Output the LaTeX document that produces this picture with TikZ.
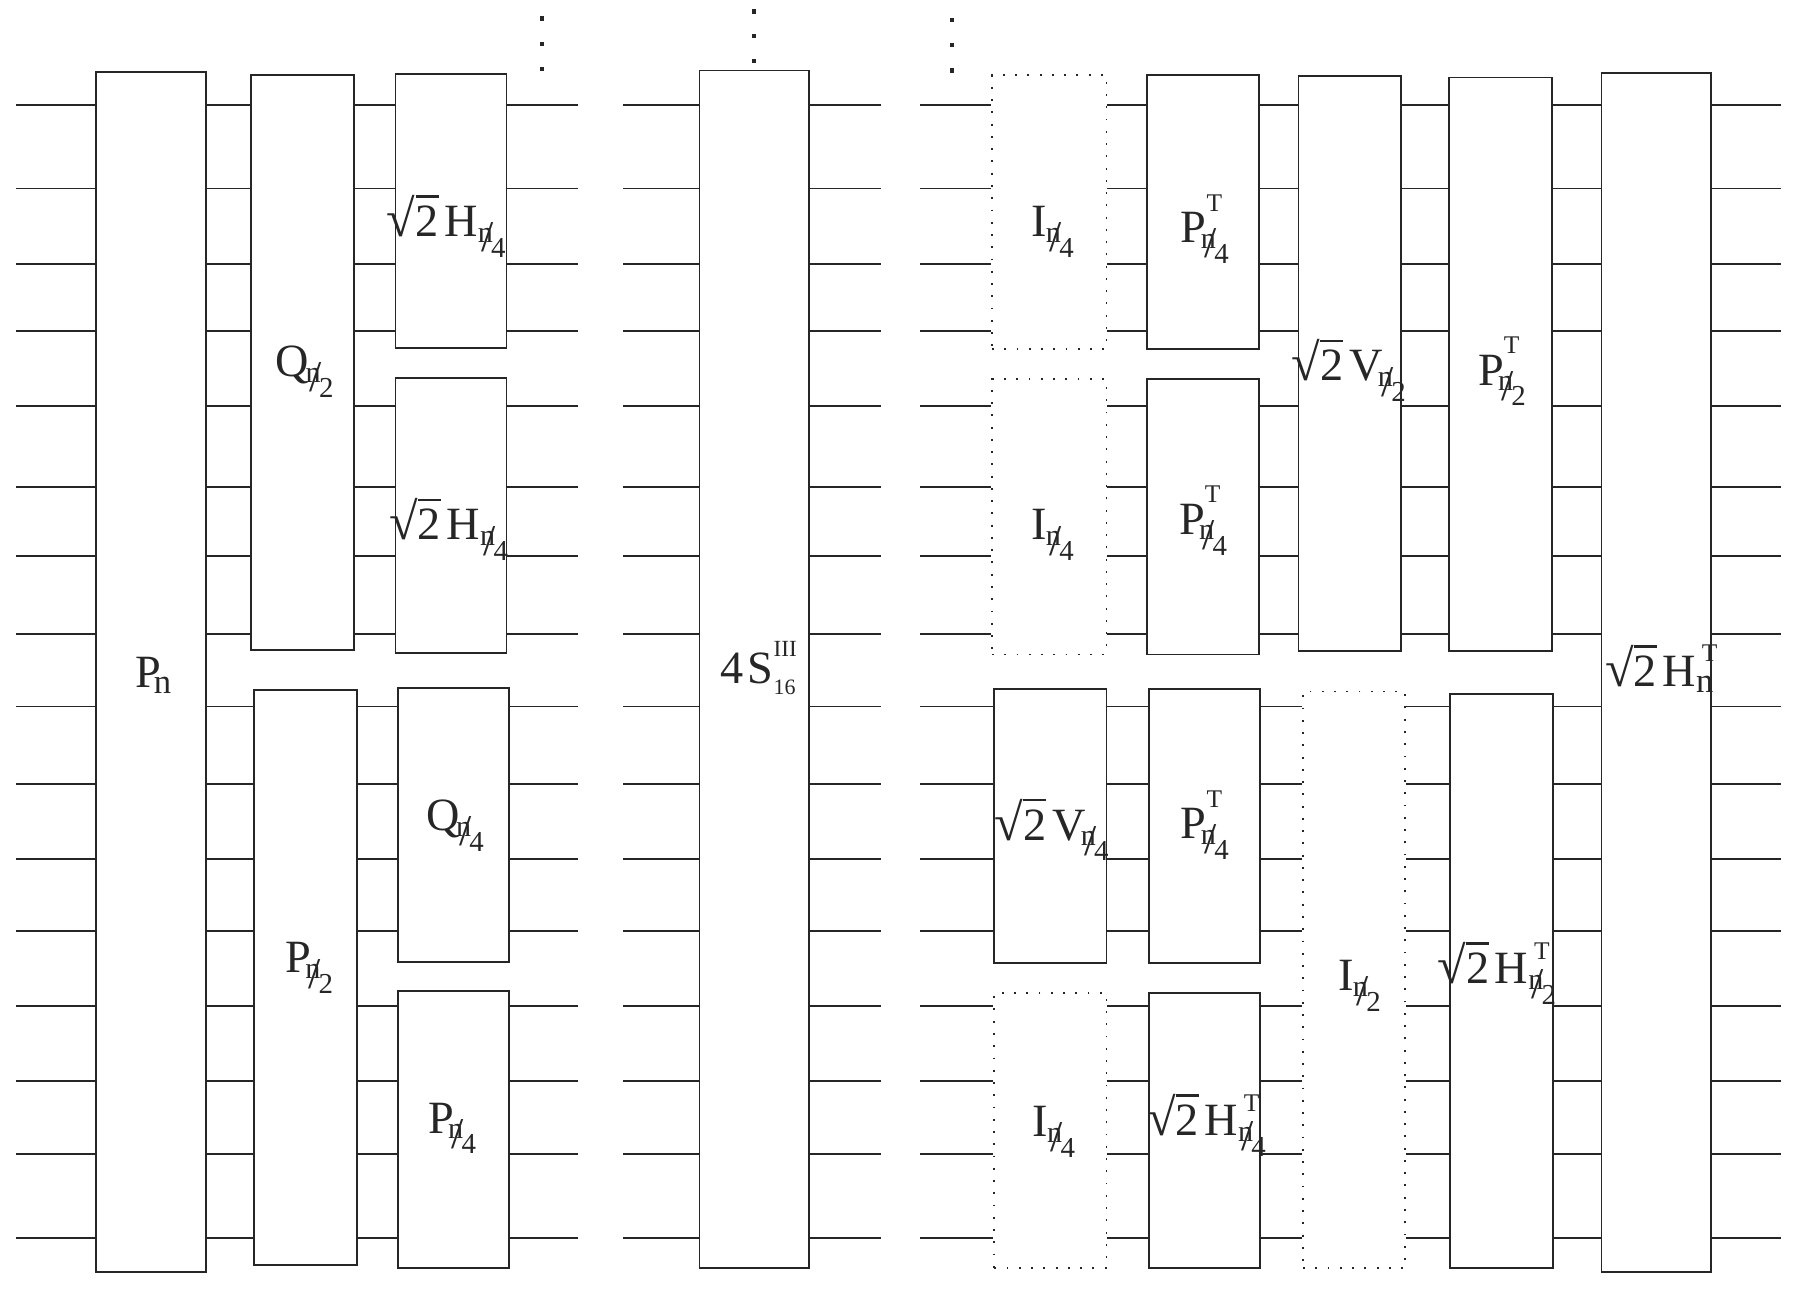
\documentclass[tikz,border=0pt]{standalone}
\usepackage{fontspec}
\setmainfont{Liberation Serif}
\definecolor{ink}{HTML}{262626}
\newcommand\lbf{\fontsize{40}{44}\selectfont}
% label placed with baseline dy below the node centre and shifted dx to the right
\newcommand\gl[3]{\raisebox{-#2pt}[0pt][0pt]{\makebox[0pt]{\kern#1pt\kern#1pt #3}}}
\newcommand\sn{\raisebox{-5pt}{\fontsize{30}{30}\selectfont n}}
\newcommand\nfr[1]{\raisebox{-5pt}{\fontsize{26}{26}\selectfont n}\kern-10pt\raisebox{-13pt}{\fontsize{38}{38}\selectfont /}\kern-2pt\raisebox{-18pt}{\fontsize{25}{25}\selectfont #1}}
\newcommand\pT{\rlap{\raisebox{27pt}{\fontsize{22}{22}\selectfont T}}\kern-5pt}
\newcommand\hT{\rlap{\kern5pt\raisebox{21pt}{\fontsize{22}{22}\selectfont T}}}
\newcommand\rtwo{\mbox{{\fontsize{45}{45}\selectfont √\rlap{\rule[\dimexpr\fontcharht\font"221A-2.2pt\relax]{20pt}{2.2pt}}}2}\kern5pt}
\begin{document}
\begin{tikzpicture}[x=1pt,y=-1pt,
  gate/.style={draw=ink,fill=white,line width=1.6pt,inner sep=0pt,text=ink,font=\lbf},
  idle/.style={gate,dash pattern=on 1.6pt off 9pt},
  wire/.style={draw=ink,line width=1.6pt},
  dotnode/.style={rectangle,fill=ink,inner sep=0pt,minimum size=3.6pt}]
\useasboundingbox (0,0) rectangle (1568,1115);
% group A
\node[gate,minimum width=95pt,minimum height=1038pt] (Pn) at (130.5,581) {\gl{2}{14}{P\kern-6pt\sn}};
\node[gate,minimum width=89pt,minimum height=497pt] (Q2) at (261.5,313.5) {\gl{2}{12}{Q\kern-3pt\nfr{2}}};
\node[gate,minimum width=89pt,minimum height=497pt] (P2) at (264.5,845.5) {\gl{3}{-4}{P\kern-5pt\nfr{2}}};
\node[gate,minimum width=96pt,minimum height=237pt] (H4a) at (390,182.5) {\gl{-4}{22}{\rtwo H\nfr{4}}};
\node[gate,minimum width=96pt,minimum height=238pt] (H4b) at (390,446) {\gl{-2}{21}{\rtwo H\nfr{4}}};
\node[gate,minimum width=96pt,minimum height=237pt] (Q4) at (392,713.5) {\gl{1.5}{5}{Q\kern-3pt\nfr{4}}};
\node[gate,minimum width=96pt,minimum height=240pt] (P4) at (392,977) {\gl{-1}{3}{P\kern-5pt\nfr{4}}};
% group B
\node[gate,minimum width=95pt,minimum height=1036pt] (S) at (652.5,579) {\gl{3}{12}{4\kern4pt S\rlap{\raisebox{23pt}{\fontsize{20}{20}\selectfont III}}\raisebox{-10pt}{\fontsize{19}{19}\selectfont 16}}};
% group C
\node[idle,minimum width=99pt,minimum height=237pt] (I4a) at (907.5,183.5) {\gl{3}{21}{I\kern-1pt\nfr{4}}};
\node[idle,minimum width=99pt,minimum height=238pt] (I4b) at (907.5,447) {\gl{3}{20}{I\kern-1pt\nfr{4}}};
\node[gate,minimum width=97pt,minimum height=237pt] (V4) at (908.5,714.5) {\gl{1}{12}{\rtwo V\kern-4pt\nfr{4}}};
\node[idle,minimum width=97pt,minimum height=238pt] (I4c) at (908.5,978) {\gl{3}{5}{I\kern-1pt\nfr{4}}};
\node[gate,minimum width=97pt,minimum height=237pt] (PT4a) at (1040.5,183.5) {\gl{1.5}{26}{P\pT\nfr{4}}};
\node[gate,minimum width=97pt,minimum height=238pt] (PT4b) at (1040.5,447) {\gl{0}{15}{P\pT\nfr{4}}};
\node[gate,minimum width=96pt,minimum height=237pt] (PT4c) at (1042,714.5) {\gl{0}{11}{P\pT\nfr{4}}};
\node[gate,minimum width=96pt,minimum height=238pt] (HT4) at (1042,978) {\gl{1.5}{4}{\rtwo H\hT\nfr{4}}};
\node[gate,minimum width=89pt,minimum height=497pt] (V2) at (1167.5,314.5) {\gl{-1}{15}{\rtwo V\kern-4pt\nfr{2}}};
\node[idle,minimum width=88pt,minimum height=499pt] (I2) at (1171,847.5) {\gl{5}{9}{I\kern-1pt\nfr{2}}};
\node[gate,minimum width=89pt,minimum height=496pt] (PT2) at (1297.5,315) {\gl{1.5}{18}{P\pT\nfr{2}}};
\node[gate,minimum width=89pt,minimum height=497pt] (HT2) at (1298.5,848.5) {\gl{-4}{2}{\rtwo H\hT\nfr{2}}};
\node[gate,minimum width=95pt,minimum height=1037pt] (Hn) at (1432.5,581.5) {\gl{2.5}{12}{\rtwo H\hT\sn}};
% wires
\foreach \y/\b/\c/\d/\e/\f/\g in {
  91/Q2/H4a/I4a/PT4a/V2/PT2, 163/Q2/H4a/I4a/PT4a/V2/PT2, 228/Q2/H4a/I4a/PT4a/V2/PT2, 286/Q2/H4a/I4a/PT4a/V2/PT2,
  351/Q2/H4b/I4b/PT4b/V2/PT2, 421/Q2/H4b/I4b/PT4b/V2/PT2, 481/Q2/H4b/I4b/PT4b/V2/PT2, 548/Q2/H4b/I4b/PT4b/V2/PT2,
  611/P2/Q4/V4/PT4c/I2/HT2, 678/P2/Q4/V4/PT4c/I2/HT2, 743/P2/Q4/V4/PT4c/I2/HT2, 805/P2/Q4/V4/PT4c/I2/HT2,
  870/P2/P4/I4c/HT4/I2/HT2, 935/P2/P4/I4c/HT4/I2/HT2, 998/P2/P4/I4c/HT4/I2/HT2, 1071/P2/P4/I4c/HT4/I2/HT2}{
  \coordinate (inA\y) at (14,\y);
  \coordinate (outA\y) at (500,\y);
  \coordinate (inB\y) at (539,\y);
  \coordinate (outB\y) at (762,\y);
  \coordinate (inC\y) at (796,\y);
  \coordinate (outC\y) at (1540,\y);
  \draw[wire] (inA\y) -- (Pn.west |- inA\y);
  \draw[wire] (Pn.east |- inA\y) -- (\b.west |- inA\y);
  \draw[wire] (\b.east |- inA\y) -- (\c.west |- inA\y);
  \draw[wire] (\c.east |- inA\y) -- (outA\y);
  \draw[wire] (inB\y) -- (S.west |- inB\y);
  \draw[wire] (S.east |- inB\y) -- (outB\y);
  \draw[wire] (inC\y) -- (\d.west |- inC\y);
  \draw[wire] (\d.east |- inC\y) -- (\e.west |- inC\y);
  \draw[wire] (\e.east |- inC\y) -- (\f.west |- inC\y);
  \draw[wire] (\f.east |- inC\y) -- (\g.west |- inC\y);
  \draw[wire] (\g.east |- inC\y) -- (Hn.west |- inC\y);
  \draw[wire] (Hn.east |- inC\y) -- (outC\y);
}
% vertical ellipses
\foreach \i/\y in {1/16,2/38,3/60} \node[dotnode] (da\i) at (469,\y) {};
\foreach \i/\y in {1/10,2/31,3/53} \node[dotnode] (db\i) at (652,\y) {};
\foreach \i/\y in {1/17,2/39,3/61} \node[dotnode] (dc\i) at (823,\y) {};
\end{tikzpicture}
\end{document}
